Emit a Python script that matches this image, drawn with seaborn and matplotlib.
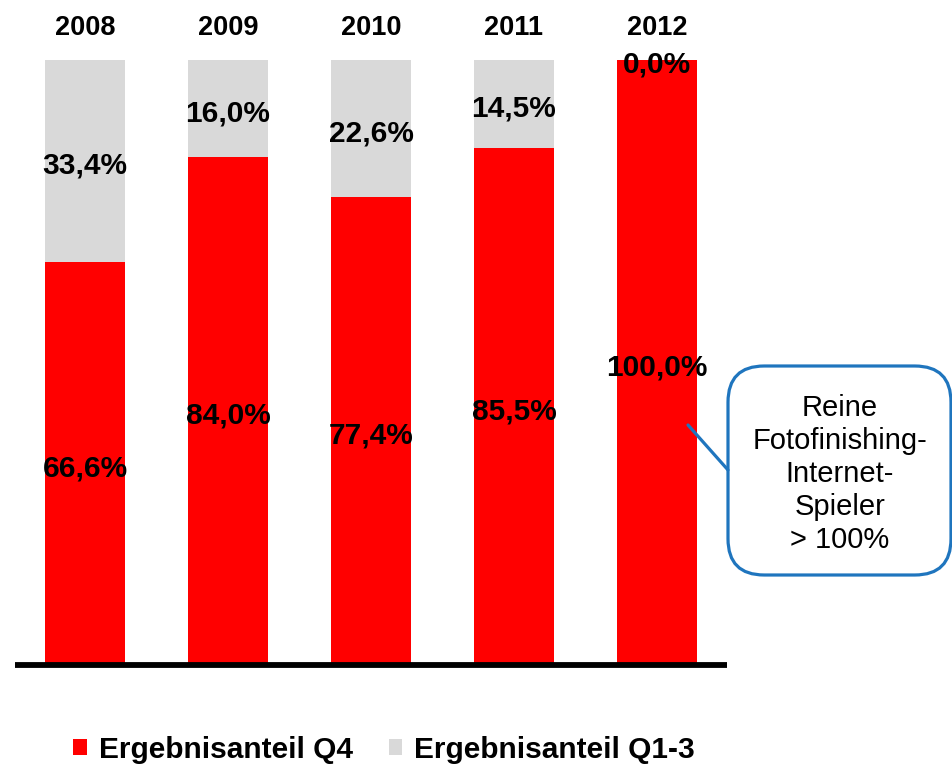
import matplotlib
matplotlib.use("Agg")
import matplotlib.pyplot as plt
import seaborn as sns
import pandas as pd
from matplotlib.patches import Patch, FancyBboxPatch
from matplotlib.lines import Line2D

years = ["2008", "2009", "2010", "2011", "2012"]
q4 = [66.6, 84.0, 77.4, 85.5, 100.0]
q13 = [33.4, 16.0, 22.6, 14.5, 0.0]
series_names = ["Ergebnisanteil Q4", "Ergebnisanteil Q1-3"]
callout_text = "Reine\nFotofinishing-\nInternet-\nSpieler\n> 100%"

sns.set_style("white")
plt.rcParams['font.family'] = ['Liberation Sans', 'DejaVu Sans']
plt.rcParams['text.color'] = 'black'
plt.rcParams['legend.labelcolor'] = 'black'

RED = "#FF0000"
GRAY = "#D9D9D9"

W, H = 953, 768
fig = plt.figure(figsize=(W / 100, H / 100), dpi=100)
ax_left, ax_right, ax_top, ax_bottom = 15, 727, 60, 665
ax = fig.add_axes([ax_left / W, 1 - ax_bottom / H, (ax_right - ax_left) / W, (ax_bottom - ax_top) / H])

df = pd.DataFrame({"year": years, "q4": q4, "q13": q13})
df["total"] = df["q4"] + df["q13"]

sns.barplot(data=df, x="year", y="total", color=GRAY, width=0.56, ax=ax,
            saturation=1, linewidth=0, errorbar=None)
sns.barplot(data=df, x="year", y="q4", color=RED, width=0.56, ax=ax,
            saturation=1, linewidth=0, errorbar=None)

ax.set_xlim(-0.49, 4.49)
ax.set_ylim(0, 100)
ax.set_xlabel("")
ax.set_ylabel("")
ax.set_xticks([])
ax.set_yticks([])
for s in ["top", "right", "left"]:
    ax.spines[s].set_visible(False)
ax.spines["bottom"].set_linewidth(4.2)
ax.spines["bottom"].set_color("black")
ax.spines["bottom"].set_capstyle("butt")

fmt = lambda v: f"{v:.1f}%".replace(".", ",")
dy = 0.8
for i, (a, b) in enumerate(zip(q4, q13)):
    ax.text(i, a / 2 - dy, fmt(a), ha="center", va="center", fontsize=21.5,
            fontweight="bold", color="black")
    ax.text(i, a + b / 2 - dy, fmt(b), ha="center", va="center", fontsize=21.5,
            fontweight="bold", color="black", clip_on=False)
    ax.text(i, 105.3, years[i], ha="center", va="center", fontsize=19.5,
            fontweight="bold", color="black", clip_on=False)

# callout
BLUE = "#1F75BE"
bx0, by0, bx1, by1 = 728, 366, 951, 575
box = FancyBboxPatch((bx0 / W, 1 - by1 / H), (bx1 - bx0) / W, (by1 - by0) / H,
                     boxstyle="round,pad=0,rounding_size=0.038",
                     transform=fig.transFigure, facecolor="white",
                     edgecolor=BLUE, linewidth=2.3, mutation_aspect=W / H)
fig.patches.append(box)
fig.lines.append(Line2D([688 / W, 728 / W], [1 - 425 / H, 1 - 470 / H],
                        transform=fig.transFigure, color=BLUE, linewidth=2.3))
fig.text(840 / W, 1 - 474 / H, callout_text, ha="center", va="center",
         fontsize=21, linespacing=1.22, color="black")

handles = [Patch(facecolor=RED, edgecolor="none"), Patch(facecolor=GRAY, edgecolor="none")]
leg = fig.legend(handles, series_names, loc="center", bbox_to_anchor=(384 / W, 1 - 750 / H),
                 ncol=2, frameon=False, handlelength=0.45, handleheight=0.45,
                 handletextpad=0.4, columnspacing=1.2, labelcolor="black",
                 prop={"size": 21.5, "weight": "bold"})

fig.savefig("out.png", dpi=100)
